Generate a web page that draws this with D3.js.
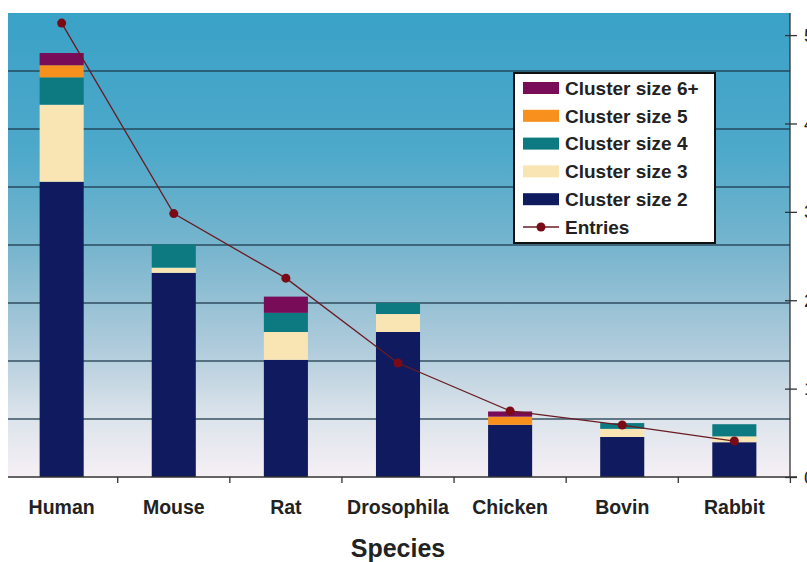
<!DOCTYPE html>
<html>
<head>
<meta charset="utf-8">
<script src="https://d3js.org/d3.v7.min.js"></script>
<style>
  html, body { margin: 0; padding: 0; background: #fff; }
  svg { display: block; }
</style>
</head>
<body>
<div id="chart"></div>
<script>
'use strict';

// ─── DATA ────────────────────────────────────────────────────

var species = ['Human', 'Mouse', 'Rat', 'Drosophila', 'Chicken', 'Bovin', 'Rabbit'];

var clusterSize2 = [509, 352, 202, 250, 90, 69, 60];
var clusterSize3 = [133, 9, 48, 31, 0, 14, 10];
var clusterSize4 = [47, 40, 33, 19, 0, 10, 21];
var clusterSize5 = [21, 0, 0, 0, 14, 0, 0];
var clusterSize6 = [21, 0, 28, 0, 9, 0, 0];

var entries = [5136, 2980, 2250, 1290, 747, 588, 407];

var leftTicks = [0, 100, 200, 300, 400, 500, 600, 700, 800];
var rightTicks = [0, 1000, 2000, 3000, 4000, 5000];

var seriesNames = ['Cluster size 2', 'Cluster size 3', 'Cluster size 4', 'Cluster size 5', 'Cluster size 6+'];
var seriesColors = ['#0f1b5e', '#f9e5b4', '#0c7a80', '#f7901c', '#780c58'];

// ─── LAYOUT ──────────────────────────────────────────────────

var width = 807, height = 562;
var plot = { left: 8, right: 790, top: 13, bottom: 477 };
var font = 'Liberation Sans, Arial, sans-serif';

var svg = d3.select('#chart').append('svg')
    .attr('width', width)
    .attr('height', height);

var defs = svg.append('defs');
var grad = defs.append('linearGradient')
    .attr('id', 'bg')
    .attr('x1', 0).attr('y1', 0).attr('x2', 0).attr('y2', 1);
[
    ['0%', '#3aa1c7'],
    ['30%', '#4ea9ca'],
    ['52%', '#7ab6ce'],
    ['72%', '#afcbdb'],
    ['86%', '#d9e2ea'],
    ['100%', '#f6f0f5']
].forEach(function(s) {
    grad.append('stop').attr('offset', s[0]).attr('stop-color', s[1]);
});

svg.append('rect')
    .attr('x', plot.left)
    .attr('y', plot.top)
    .attr('width', plot.right - plot.left)
    .attr('height', plot.bottom - plot.top)
    .attr('fill', 'url(#bg)');

// ─── SCALES ──────────────────────────────────────────────────

var x = d3.scaleBand()
    .domain(species)
    .range([6, 790])
    .paddingInner(0.607)
    .paddingOuter(0.3);

var y = d3.scaleLinear().domain([0, 800]).range([plot.bottom, plot.top]);
var y2 = d3.scaleLinear().domain([0, 5250]).range([plot.bottom, plot.top]);

// ─── GRIDLINES ───────────────────────────────────────────────

svg.append('g')
    .selectAll('line')
    .data(leftTicks.slice(1, -1))
    .enter()
    .append('line')
    .attr('x1', plot.left)
    .attr('x2', plot.right)
    .attr('y1', function(d) { return y(d); })
    .attr('y2', function(d) { return y(d); })
    .attr('stroke', '#1d3a4a')
    .attr('stroke-opacity', 0.85)
    .attr('stroke-width', 1.6);

// ─── BARS ────────────────────────────────────────────────────

var rows = species.map(function(s, i) {
    return {
        species: s,
        s2: clusterSize2[i],
        s3: clusterSize3[i],
        s4: clusterSize4[i],
        s5: clusterSize5[i],
        s6: clusterSize6[i]
    };
});
var keys = ['s2', 's3', 's4', 's5', 's6'];
var stacked = d3.stack().keys(keys)(rows);

svg.append('g')
    .selectAll('g')
    .data(stacked)
    .enter()
    .append('g')
    .attr('fill', function(d, i) { return seriesColors[i]; })
    .selectAll('rect')
    .data(function(d) { return d; })
    .enter()
    .append('rect')
    .attr('x', function(d) { return x(d.data.species); })
    .attr('width', x.bandwidth())
    .attr('y', function(d) { return y(d[1]); })
    .attr('height', function(d) { return y(d[0]) - y(d[1]); });

// ─── ENTRIES LINE ────────────────────────────────────────────

var cx = function(d, i) { return x(species[i]) + x.bandwidth() / 2; };

svg.append('path')
    .datum(entries)
    .attr('fill', 'none')
    .attr('stroke', '#6a1b22')
    .attr('stroke-width', 1.3)
    .attr('d', d3.line().x(cx).y(function(d) { return y2(d); }));

svg.append('g')
    .selectAll('circle')
    .data(entries)
    .enter()
    .append('circle')
    .attr('cx', cx)
    .attr('cy', function(d) { return y2(d); })
    .attr('r', 4.5)
    .attr('fill', '#7a0a16');

// ─── AXES ────────────────────────────────────────────────────

// bottom axis line + ticks between categories
svg.append('line')
    .attr('x1', plot.left).attr('x2', 797)
    .attr('y1', plot.bottom).attr('y2', plot.bottom)
    .attr('stroke', '#333').attr('stroke-width', 1.3);

svg.append('g')
    .selectAll('line')
    .data(species)
    .enter()
    .append('line')
    .attr('x1', function(d) { return x(d) + x.bandwidth() / 2 + x.step() / 2; })
    .attr('x2', function(d) { return x(d) + x.bandwidth() / 2 + x.step() / 2; })
    .attr('y1', plot.bottom)
    .attr('y2', plot.bottom + 6)
    .attr('stroke', '#333').attr('stroke-width', 1.3);

svg.append('g')
    .selectAll('text')
    .data(species)
    .enter()
    .append('text')
    .attr('x', function(d) { return x(d) + x.bandwidth() / 2; })
    .attr('y', 514)
    .attr('text-anchor', 'middle')
    .attr('font-family', font)
    .attr('font-weight', 'bold')
    .attr('font-size', 19.5)
    .attr('fill', '#222')
    .text(function(d) { return d; });

svg.append('text')
    .attr('x', 398)
    .attr('y', 557)
    .attr('text-anchor', 'middle')
    .attr('font-family', font)
    .attr('font-weight', 'bold')
    .attr('font-size', 25)
    .attr('fill', '#222')
    .text('Species');

// right axis for entries (labels run off the right edge, as in the source)
var rightAxis = d3.axisRight(y2)
    .tickValues(rightTicks)
    .tickSize(7)
    .tickPadding(7)
    .tickFormat(d3.format('d'));

var ra = svg.append('g')
    .attr('transform', 'translate(' + plot.right + ',0)')
    .call(rightAxis);
ra.select('.domain')
    .attr('d', 'M0,' + plot.top + 'V' + plot.bottom)
    .attr('stroke', '#333').attr('stroke-width', 1.3);
ra.selectAll('.tick line')
    .attr('x1', -5)
    .attr('stroke', '#333').attr('stroke-width', 1.3);
ra.selectAll('.tick text')
    .attr('font-family', font)
    .attr('font-size', 19)
    .attr('fill', '#222');

// ─── LEGEND ──────────────────────────────────────────────────

var legend = svg.append('g').attr('transform', 'translate(514,73)');
legend.append('rect')
    .attr('width', 201)
    .attr('height', 170)
    .attr('fill', '#fff')
    .attr('stroke', '#111')
    .attr('stroke-width', 2);

var legendItems = seriesNames.map(function(n, i) {
    return { name: n, color: seriesColors[i] };
}).reverse();

legendItems.forEach(function(item, i) {
    var cy = 15 + i * 27.8;
    legend.append('rect')
        .attr('x', 9).attr('y', cy - 6)
        .attr('width', 36).attr('height', 12)
        .attr('fill', item.color);
    legend.append('text')
        .attr('x', 51).attr('y', cy)
        .attr('dy', '0.36em')
        .attr('font-family', font)
        .attr('font-weight', 'bold')
        .attr('font-size', 19)
        .attr('fill', '#222')
        .text(item.name);
});

var ey = 15 + 5 * 27.8;
legend.append('line')
    .attr('x1', 9).attr('x2', 45)
    .attr('y1', ey).attr('y2', ey)
    .attr('stroke', '#6a1b22').attr('stroke-width', 1.3);
legend.append('circle')
    .attr('cx', 27).attr('cy', ey).attr('r', 4.5)
    .attr('fill', '#7a0a16');
legend.append('text')
    .attr('x', 51).attr('y', ey)
    .attr('dy', '0.36em')
    .attr('font-family', font)
    .attr('font-weight', 'bold')
    .attr('font-size', 19)
    .attr('fill', '#222')
    .text('Entries');
</script>
</body>
</html>
